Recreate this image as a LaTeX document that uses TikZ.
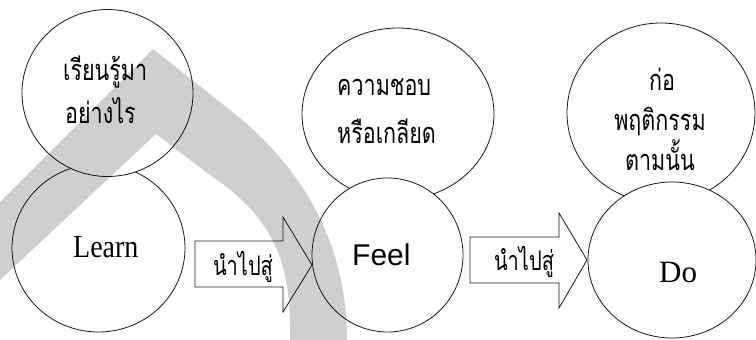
\documentclass[tikz,border=0pt]{standalone}
\usepackage{fontspec}
\setmainfont{Liberation Serif}
\newfontfamily\thaifont[Script=Thai]{Loma}
\newfontfamily\arialfont{Liberation Sans}
\usetikzlibrary{shapes.geometric}
\newcommand\tallthai[1]{\scalebox{1}[1.35]{#1}}
\newcommand\tallword[1]{\scalebox{1}[1.15]{#1}}
\tikzset{
  ell/.style={ellipse, draw=black!90, line width=0.8pt, fill=white, inner sep=0pt},
  thaitxt/.style={inner sep=0pt, font=\thaifont\fontsize{21.5}{26}\selectfont},
  arrtxt/.style={inner sep=0pt, font=\thaifont\fontsize{20}{24}\selectfont},
  blockarrow/.style={draw=black!90, line width=0.8pt, fill=white, line join=miter},
  band/.style={fill=black, opacity=0.19},
  serif/.style={inner sep=0pt, font=\fontsize{28}{32}\selectfont},
  bigserif/.style={inner sep=0pt, font=\fontsize{31}{35}\selectfont},
  sans/.style={inner sep=0pt, font=\arialfont\fontsize{30}{34}\selectfont}
}
\begin{document}
\begin{tikzpicture}[x=1pt, y=-1pt]
\useasboundingbox (0,0) rectangle (756,340);
% left pair
\node[ell, minimum width=173pt, minimum height=168pt] (learn) at (98.5,248) {};
\node[ell, minimum width=171pt, minimum height=167pt] (tl) at (107.5,93) {};
% middle pair
\node[ell, minimum width=192pt, minimum height=172pt] (mt) at (398,114) {};
\node[ell, minimum width=151pt, minimum height=154pt] (feel) at (387.5,255) {};
% right pair
\node[ell, minimum width=188pt, minimum height=180pt] (rt) at (661,113) {};
\node[ell, minimum width=168pt, minimum height=156pt] (do) at (672,260) {};
% texts
\node[thaitxt, anchor=base west] (tl1) at (63,80) {\tallthai{เรียนรู้มา}};
\node[thaitxt, anchor=base west] (tl2) at (65,123) {\tallthai{อย่างไร}};
\node[thaitxt, anchor=base west] (mt1) at (337,95) {\tallthai{ความชอบ}};
\node[thaitxt, anchor=base west] (mt2) at (337,143) {\tallthai{หรือเกลียด}};
\node[thaitxt, anchor=base] (rt1) at (662,90) {\tallthai{ก่อ}};
\node[thaitxt, anchor=base] (rt2) at (660,130) {\tallthai{พฤติกรรม}};
\node[thaitxt, anchor=base] (rt3) at (660,170) {\tallthai{ตามนั้น}};
\node[serif, anchor=base west] (lt) at (73,257) {\tallword{Learn}};
\node[sans, anchor=base west] (ft) at (352,265) {Feel};
\node[bigserif, anchor=base west] (dt) at (659,282) {Do};
% block arrows
\draw[blockarrow] (195,241) -- (283,241) -- (283,217) -- (312,265) -- (283,312) -- (283,287) -- (195,287) -- cycle;
\draw[blockarrow] (470,237) -- (559,237) -- (559,213) -- (587,260) -- (559,308) -- (559,283) -- (470,283) -- cycle;
\node[arrtxt, anchor=base] (a1) at (243,275) {\tallthai{นำไปสู่}};
\node[arrtxt, anchor=base] (a2) at (524,270) {\tallthai{นำไปสู่}};
% watermark band
\fill[band] (0,202) -- (153,49) -- (230,110) .. controls (300,165) and (347,240) .. (347,340)
  -- (290,340) .. controls (291,270) and (280,222) .. (210,175) -- (156,134) -- (0,280) -- cycle;
\end{tikzpicture}
\end{document}
